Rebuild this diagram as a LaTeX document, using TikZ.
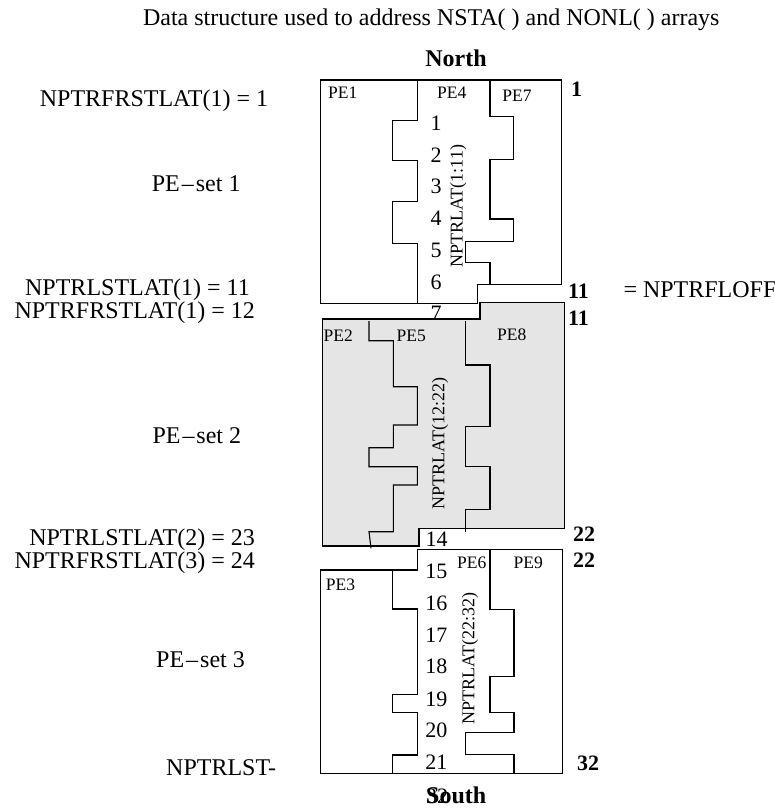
\documentclass[tikz,border=0pt]{standalone}
\usepackage{fontspec}
\setmainfont{Liberation Serif}
\usetikzlibrary{positioning}
\definecolor{shade}{HTML}{E5E5E5}

\begin{document}
\begin{tikzpicture}[x=1pt, y=-1pt,
  lbl/.style={font=\fontsize{24}{27}\selectfont, inner sep=0pt},
  head/.style={font=\fontsize{24}{27}\selectfont\bfseries, inner sep=0pt, anchor=base},
  num/.style={font=\fontsize{22}{24}\selectfont, inner sep=0pt, anchor=base},
  bnum/.style={font=\fontsize{22}{24}\selectfont\bfseries, inner sep=0pt, anchor=base west},
  pe/.style={font=\fontsize{17.5}{20}\selectfont, inner sep=0pt, anchor=base},
  lat/.style={font=\fontsize{18}{20}\selectfont, inner sep=0pt, rotate=90},
  wall/.style={line width=1.1pt}]
\useasboundingbox (0,0) rectangle (775,809);
% headings
\node[lbl, anchor=base] (title) at (431.3,25) {Data structure used to address NSTA( ) and NONL( ) arrays};
\node[head] (north) at (456,66) {North};
% PE-set 1
\draw[wall] (320.7,80) -- (561.7,80) -- (561.7,284.3) -- (477.7,284.3) -- (477.7,303.3) -- (320.7,303.3) -- cycle;
\draw[wall] (417.3,80) -- (417.3,120.7) -- (392.7,120.7) -- (392.7,160.7) -- (417.3,160.7) -- (417.3,201.7) -- (392.7,201.7) -- (392.7,243.3) -- (417.3,243.3) -- (417.3,303.3);
\draw[wall] (490,80) -- (490,116.7) -- (513.3,116.7) -- (513.3,159.3) -- (490,159.3) -- (490,219) -- (513.3,219) -- (513.3,241.7) -- (465.7,241.7) -- (465.7,262.3) -- (490,262.3) -- (490,284.3);
\node[pe] (pe1) at (342.8,98.3) {PE1}; \node[pe] (pe4) at (451.7,98.3) {PE4}; \node[pe] (pe7) at (517,101.7) {PE7};
\node[num] (n1) at (436,130.5) {1}; \node[num] (n2) at (436,162.2) {2}; \node[num] (n3) at (436,193.9) {3};
\node[num] (n4) at (436,225.6) {4}; \node[num] (n5) at (436,257.3) {5}; \node[num] (n6) at (436,289) {6};
\node[num] (n7) at (436,320.7) {7};
\node[lat] (lat1) at (458.3,206) {NPTRLAT(1:11)};
% PE-set 2 (shaded)
\draw[wall, fill=shade] (322.3,319) -- (480,319) -- (480,302.3) -- (564.3,302.3) -- (564.3,528.3) -- (419,528.3) -- (419,546) -- (322.3,546) -- cycle;
\draw[wall] (369,321) -- (369,340.7) -- (393.3,340.7) -- (393.3,386.7) -- (417.3,386.7) -- (417.3,425) -- (393.3,425) -- (393.3,447.7) -- (369,447.7) -- (369,466.7) -- (417.3,466.7) -- (417.3,485) -- (393.3,485) -- (393.3,531.7) -- (369,531.7) -- (371,548.3);
\draw[wall] (465.7,321) -- (465.7,365) -- (490,365) -- (490,426.7) -- (465.7,426.7) -- (465.7,466.7) -- (490,466.7) -- (490,509.3) -- (465.7,509.3) -- (465.7,531.7);
\node[pe] (pe2) at (338.3,341.7) {PE2}; \node[pe] (pe5) at (411.3,341.7) {PE5}; \node[pe] (pe8) at (511.7,340) {PE8};
\node[lat] (lat2) at (440,443.3) {NPTRLAT(12:22)};
\node[num] (n14) at (436.5,546) {14};
% PE-set 3
\draw[wall] (417.3,549.3) -- (562.3,549.3) -- (562.3,773.3) -- (320.7,773.3) -- (320.7,570) -- (417.3,570) -- cycle;
\draw[wall] (392.7,570) -- (392.7,609) -- (417.3,609) -- (417.3,694.3) -- (392.7,694.3) -- (392.7,712.7) -- (417.3,712.7) -- (417.3,755) -- (392.7,755) -- (392.7,773.3);
\draw[wall] (490,549.3) -- (490,609.3) -- (514,609.3) -- (514,676.7) -- (490,676.7) -- (490,712.7) -- (514,712.7) -- (514,732.3) -- (465.7,732.3) -- (465.7,754.3) -- (514,754.3) -- (514,773.3);
\node[pe] (pe3) at (340.5,590) {PE3}; \node[pe] (pe6) at (471.7,568.3) {PE6}; \node[pe] (pe9) at (528.3,568.3) {PE9};
\node[num] (n15) at (436.3,578.2) {15}; \node[num] (n16) at (436.3,610.2) {16}; \node[num] (n17) at (436.3,642.5) {17};
\node[num] (n18) at (436.3,673.5) {18}; \node[num] (n19) at (436.3,706.5) {19}; \node[num] (n20) at (436.3,737.5) {20};
\node[num] (n21) at (436.3,769.2) {21};
\node[lat] (lat3) at (470,658.3) {NPTRLAT(22:32)};
\node[num, anchor=base west] (n32) at (426,803) {32};
\node[head, anchor=base west] (south) at (426,803) {South};
% left side
\node[lbl, anchor=base east] (ff1) at (268.3,106) {NPTRFRSTLAT(1) = 1};
\node[lbl, anchor=base west] (set1) at (151.7,191.7) {PE\kern2pt–\kern2pt set 1};
\node[lbl, anchor=base east] (ls1) at (250,295) {NPTRLSTLAT(1) = 11};
\node[lbl, anchor=base east] (ff2) at (255,318) {NPTRFRSTLAT(1) = 12};
\node[lbl, anchor=base west] (set2) at (152.3,443) {PE\kern2pt–\kern2pt set 2};
\node[lbl, anchor=base east] (ls2) at (255,545) {NPTRLSTLAT(2) = 23};
\node[lbl, anchor=base east] (ff3) at (255,568) {NPTRFRSTLAT(3) = 24};
\node[lbl, anchor=base west] (set3) at (156,667) {PE\kern2pt–\kern2pt set 3};
\node[lbl, anchor=base west] (ls3) at (166,775) {NPTRLST-};
% right side
\node[bnum] (b1) at (571,96.7) {1};
\node[bnum] (b11a) at (568,298) {11}; \node[bnum] (b11b) at (568,325) {11};
\node[lbl, anchor=base west] (floff) at (623.3,297) {= NPTRFLOFF};
\node[bnum] (b22a) at (573,541.7) {22}; \node[bnum] (b22b) at (573,567) {22};
\node[bnum] (b32) at (577,770) {32};
\end{tikzpicture}
\end{document}
